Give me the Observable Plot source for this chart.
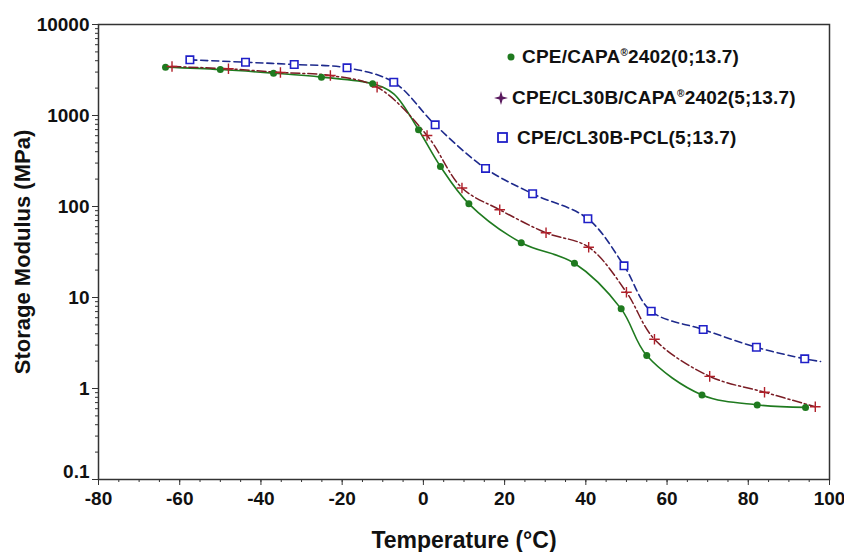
<!DOCTYPE html>
<html><head><meta charset="utf-8">
<script src="https://cdn.jsdelivr.net/npm/d3@7"></script>
<script src="https://cdn.jsdelivr.net/npm/@observablehq/plot@0.6"></script>
<style>
body{margin:0;background:#fff;}
#wrap{position:relative;width:844px;height:552px;font-family:"Liberation Sans",Arial,sans-serif;}
#legend{position:absolute;left:494px;top:37px;font-weight:bold;font-size:19px;letter-spacing:0.2px;color:#111;}
#legend .row{display:flex;align-items:center;height:40.5px;white-space:nowrap;}
#legend svg{margin-right:3px;}
#legend sup{font-size:10px;vertical-align:7px;}
g[aria-label="x-axis label"]{font-size:23px;}
g[aria-label="y-axis label"]{font-size:22px;}
</style></head><body><div id="wrap"><div id="chart"></div><div id="legend"></div></div>
<script>
// Series names
const names = ["CPE/CAPA®2402(0;13.7)", "CPE/CL30B/CAPA®2402(5;13.7)", "CPE/CL30B-PCL(5;13.7)"];

// Series 1 (green, filled circles) – marker points
const greenT = [-63.5, -50.0, -36.9, -25.1, -12.5, -1.2, 4.2, 11.2, 24.1, 37.2, 48.7, 55.0, 68.6, 82.2, 94.1];
const greenE = [3400, 3200, 2920, 2640, 2230, 697, 275, 107, 40, 23.8, 7.5, 2.3, 0.85, 0.66, 0.62];
// extra line vertices (no marker)
const greenLineT = [-7.3];
const greenLineE = [1730];

// Series 2 (maroon dash-dot, plus markers)
const redT = [-61.9, -48.0, -35.2, -22.9, -11.4, 0.9, 9.5, 18.8, 30.2, 40.7, 50.0, 56.9, 70.5, 84.0, 96.5];
const redE = [3450, 3260, 2970, 2750, 2050, 603, 160, 92, 51.4, 35.7, 11.4, 3.48, 1.36, 0.91, 0.63];

// Series 3 (blue dashed, open squares)
const blueT = [-57.5, -43.8, -31.8, -18.8, -7.3, 2.9, 15.3, 26.9, 40.5, 49.4, 56.1, 68.9, 82.0, 93.9];
const blueE = [4090, 3850, 3635, 3340, 2320, 790, 262, 138, 73.3, 22.3, 7.07, 4.45, 2.84, 2.12];
const blueLineT = [97.8];
const blueLineE = [1.98];

// Axis ticks
const xMajor = [-80, -60, -40, -20, 0, 20, 40, 60, 80, 100];
const xMinor = d3.range(-80, 101, 5);
const yMajor = [0.1, 1, 10, 100, 1000, 10000];
const yMinor = yMajor.slice(0, -1).flatMap(d => [2,3,4,5,6,7,8,9].map(k => k * d));

const pts = (T, E) => T.map((t, i) => ({t, e: E[i]}));
const lineOf = (T, E, LT = [], LE = []) => pts(T.concat(LT), E.concat(LE)).sort((a, b) => a.t - b.t);

const green = pts(greenT, greenE), red = pts(redT, redE), blue = pts(blueT, blueE);
const greenLine = lineOf(greenT, greenE, greenLineT, greenLineE);
const redLine = lineOf(redT, redE);
const blueLine = lineOf(blueT, blueE, blueLineT, blueLineE);

const cGreen = "#1f7a1f", cRed = "#7a1c24", cBlue = "#1e2a8c", cBlueMk = "#2020c8", cPurple = "#5a1a5e";
const noLabel = () => "";

const chart = Plot.plot({
  width: 844, height: 552,
  marginLeft: 98, marginRight: 15, marginTop: 24, marginBottom: 73,
  style: {fontFamily: '"Liberation Sans", Arial, sans-serif', fontSize: "19px", fontWeight: "bold", color: "#111", background: "#fff"},
  x: {domain: [-80, 100]},
  y: {type: "log", domain: [0.1, 10000]},
  marks: [
    Plot.axisX({ticks: xMinor, tickSize: 3, tickFormat: noLabel, label: null, stroke: "#333"}),
    Plot.axisX({ticks: xMajor, tickSize: 6, tickPadding: 6, tickFormat: d => String(d), stroke: "#333",
      label: "Temperature (°C)", labelAnchor: "center", labelArrow: "none", labelOffset: 68}),
    Plot.axisY({ticks: yMinor, tickSize: 3, tickFormat: noLabel, label: null, stroke: "#333"}),
    Plot.axisY({ticks: yMajor, tickSize: 6, tickPadding: 3, tickFormat: d => d === 0.1 ? "" : String(d), stroke: "#333",
      label: "Storage Modulus (MPa)", labelAnchor: "center", labelArrow: "none", labelOffset: 84}),
    Plot.axisY({ticks: [0.1], tickSize: 0, tickPadding: 9, tickFormat: d => String(d), dy: -8, label: null}),
    Plot.frame({stroke: "#333", strokeWidth: 1.5}),
    Plot.line(greenLine, {x: "t", y: "e", stroke: cGreen, strokeWidth: 1.6, curve: "catmull-rom"}),
    Plot.line(redLine, {x: "t", y: "e", stroke: cRed, strokeWidth: 1.5, strokeDasharray: "9,3,2,3", curve: "catmull-rom"}),
    Plot.line(blueLine, {x: "t", y: "e", stroke: cBlue, strokeWidth: 1.6, strokeDasharray: "7,4", curve: "catmull-rom"}),
    Plot.dot(green, {x: "t", y: "e", r: 3.5, fill: cGreen, stroke: "none"}),
    Plot.dot(red, {x: "t", y: "e", r: 3.5, symbol: "plus", stroke: "#b0202a", strokeWidth: 1.4}),
    Plot.dot(blue, {x: "t", y: "e", r: 4.2, symbol: "square", stroke: cBlueMk, fill: "white", strokeWidth: 1.6})
  ]
});
document.getElementById("chart").appendChild(chart);

// Legend (HTML overlay inside plot area)
const legendMarkers = [
  `<svg width="25" height="14"><circle cx="17" cy="7" r="3.5" fill="${cGreen}"/></svg>`,
  `<svg width="15" height="16"><path d="M7,1 L8.6,6.4 L14,8 L8.6,9.6 L7,15 L5.4,9.6 L0,8 L5.4,6.4 Z" fill="${cPurple}"/></svg>`,
  `<svg width="20" height="14"><rect x="4" y="2" width="9" height="9" fill="white" stroke="${cBlueMk}" stroke-width="1.8"/></svg>`
];
const esc = s => s.replace("®", "<sup>®</sup>");
document.getElementById("legend").innerHTML = names.map((n, i) =>
  `<div class="row">${legendMarkers[i]}<span>${esc(n)}</span></div>`).join("");
</script>
</body></html>
